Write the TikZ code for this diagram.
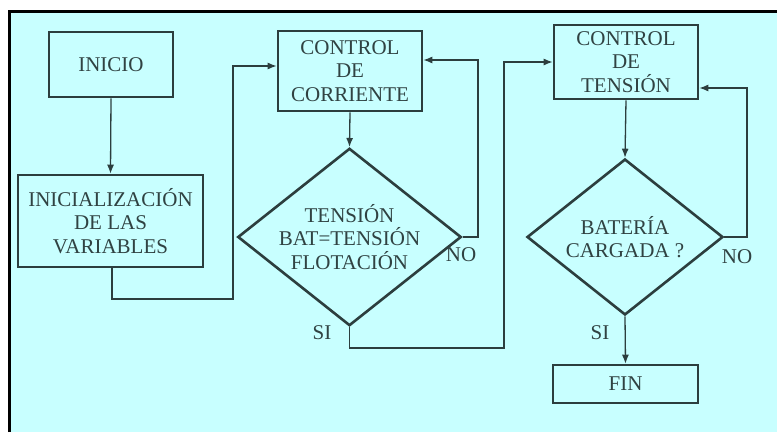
\documentclass[tikz,border=0pt]{standalone}
\usepackage{fontspec}
\setmainfont{Liberation Serif}
\usetikzlibrary{shapes.geometric,arrows.meta}
\definecolor{panel}{RGB}{200,255,255}
\definecolor{ink}{RGB}{48,66,66}
\definecolor{edge}{RGB}{44,62,62}
\begin{document}
\begin{tikzpicture}[x=1pt,y=-1pt,
  lbl/.style={font=\fontsize{21}{23.5}\selectfont, text=ink, align=center},
  procbox/.style={lbl, draw=edge, line width=2.6pt, rectangle, inner sep=0pt},
  decision/.style={lbl, draw=edge, line width=2.6pt, diamond, inner sep=0pt, aspect=1.26},
  flow/.style={draw=edge, line width=1.3pt, -{Latex[length=9pt,width=7pt]}},
  link/.style={draw=edge, line width=1.3pt}]
  % canvas and frame
  \useasboundingbox (0,0) rectangle (777,432);
  \fill[white] (0,0) rectangle (777,432);
  \fill[panel] (9,11) rectangle (777,432);
  \draw[black, line width=3pt] (9,432) -- (9,11) -- (777,11);

  % process blocks
  \node[procbox, minimum width=124pt, minimum height=65pt] (inicio) at (111,64.5) {INICIO};
  \node[procbox, minimum width=185pt, minimum height=92pt] (init) at (110.5,221) {INICIALIZACIÓN\\DE LAS\\VARIABLES};
  \node[procbox, minimum width=144pt, minimum height=80pt] (cc) at (350,71) {CONTROL\\DE\\CORRIENTE};
  \node[procbox, minimum width=144pt, minimum height=74pt] (ct) at (626,62) {CONTROL\\DE\\TENSIÓN};
  \node[procbox, minimum width=145pt, minimum height=38pt] (fin) at (625.5,384) {FIN};

  % decisions
  \node[decision, minimum width=199pt, minimum height=158pt] (d1) at (349.5,237) {TENSIÓN\\BAT=TENSIÓN\\FLOTACIÓN};
  \node[decision, minimum width=196pt, minimum height=156pt] (d2) at (625,237) {BATERÍA\\CARGADA ?};

  % branch labels
  \node[lbl] (no1) at (461,255) {NO};
  \node[lbl] (si1) at (322,333) {SI};
  \node[lbl] (no2) at (737,257) {NO};
  \node[lbl] (si2) at (600,333) {SI};

  % routing corners
  \coordinate (a1) at (112,299);
  \coordinate (a2) at (233,299);
  \coordinate (a3) at (233,66);
  \coordinate (b1) at (478,237);
  \coordinate (b2) at (478,60);
  \coordinate (c1) at (349.5,348);
  \coordinate (c2) at (504,348);
  \coordinate (c3) at (504,62);
  \coordinate (e1) at (747,237);
  \coordinate (e2) at (747,88);

  % connectors
  \draw[flow] (inicio.south) -- (init.north);
  \draw[flow] (init.south -| a1) -- (a1) -- (a2) -- (a3) -- (a3 -| cc.west);
  \draw[flow] (cc.south) -- (d1.north);
  \draw[flow] (d1.east) -- (b1) -- (b2) -- (b2 -| cc.east);
  \draw[flow] (d1.south) -- (c1) -- (c2) -- (c3) -- (c3 -| ct.west);
  \draw[flow] (ct.south) -- (d2.north);
  \draw[flow] (d2.east) -- (e1) -- (e2) -- (e2 -| ct.east);
  \draw[flow] (d2.south) -- (fin.north);
\end{tikzpicture}
\end{document}
